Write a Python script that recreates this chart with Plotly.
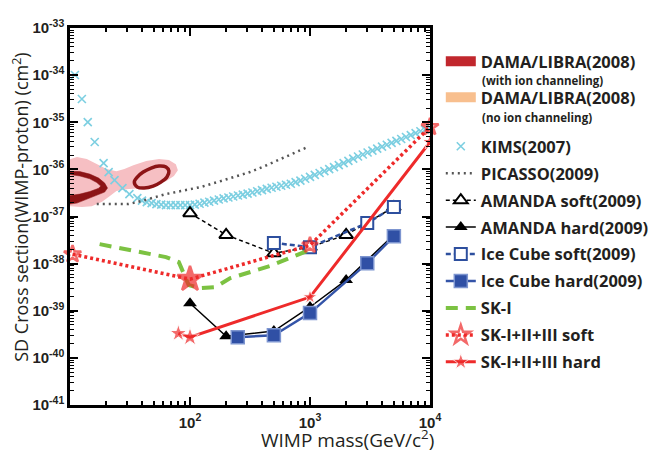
import plotly.graph_objects as go

# ---------------- data (log10 mass [GeV], log10 sigma [cm^2]) ----------------
dama_noch_logm = [0.98, 1.058, 1.140, 1.223, 1.305, 1.387, 1.453, 1.528, 1.635, 1.742, 1.824, 1.882,
                  1.899, 1.866, 1.800, 1.693, 1.577, 1.470, 1.387, 1.330, 1.264, 1.181, 1.099, 0.98]
dama_noch_logsig = [-35.80, -35.74, -35.78, -35.89, -35.99, -36.04, -35.99, -35.91, -35.82, -35.78, -35.80, -35.89,
                    -36.02, -36.14, -36.25, -36.33, -36.40, -36.42, -36.46, -36.57, -36.69, -36.78, -36.80, -36.78]

dama_ch_left_logm = [0.934, 1.000, 1.082, 1.165, 1.239, 1.289, 1.313, 1.289, 1.223, 1.140, 1.058, 0.934,
                     0.934, 1.000, 1.082, 1.165, 1.239, 1.256, 1.223, 1.165, 1.082, 1.000, 0.934]
dama_ch_left_logsig = [-36.036, -36.036, -36.047, -36.100, -36.185, -36.291, -36.397, -36.482, -36.546, -36.631, -36.716, -36.758,
                       -36.560, -36.555, -36.525, -36.470, -36.400, -36.355, -36.280, -36.200, -36.140, -36.110, -36.110]

dama_ch_right_logm = [1.536, 1.561, 1.618, 1.693, 1.758, 1.808, 1.824, 1.800, 1.742, 1.676, 1.610, 1.561, 1.536]
dama_ch_right_logsig = [-36.270, -36.376, -36.397, -36.355, -36.270, -36.163, -36.036, -35.951, -35.930, -35.972, -36.057, -36.163, -36.270]

kims_logm = [1.041, 1.099, 1.148, 1.206, 1.280, 1.322, 1.371, 1.437, 1.495, 1.561,
             1.60, 1.64, 1.68, 1.72, 1.76, 1.80, 1.84, 1.88, 1.92, 1.96,
             2.00, 2.04, 2.08, 2.12, 2.16, 2.20, 2.24, 2.28, 2.32, 2.36,
             2.40, 2.44, 2.48, 2.52, 2.56, 2.60, 2.64, 2.68, 2.72, 2.76,
             2.80, 2.84, 2.88, 2.92, 2.96, 3.00, 3.04, 3.08, 3.12, 3.16,
             3.20, 3.24, 3.28, 3.32, 3.36, 3.40, 3.44, 3.48, 3.52, 3.56,
             3.60, 3.64, 3.68, 3.72, 3.76, 3.80, 3.84, 3.88, 3.92, 3.96, 4.00]
kims_logsig = [-33.998, -34.507, -34.996, -35.420, -35.866, -36.057, -36.227, -36.397, -36.524, -36.609,
               -36.662, -36.694, -36.716, -36.737, -36.747, -36.758, -36.758, -36.758, -36.758, -36.758,
               -36.758, -36.747, -36.730, -36.705, -36.688, -36.662, -36.639, -36.616, -36.597, -36.575,
               -36.554, -36.535, -36.514, -36.490, -36.465, -36.439, -36.414, -36.389, -36.369, -36.348,
               -36.327, -36.304, -36.270, -36.240, -36.200, -36.159, -36.117, -36.076, -36.036, -35.994,
               -35.951, -35.911, -35.866, -35.820, -35.771, -35.726, -35.684, -35.643, -35.601, -35.561,
               -35.518, -35.478, -35.437, -35.395, -35.355, -35.312, -35.272, -35.231, -35.191, -35.157, -35.123]

picasso_logm = [1.223, 1.346, 1.486, 1.594, 1.676, 1.800, 1.923, 2.088, 2.228, 2.360, 2.500, 2.641, 2.772, 2.913, 2.979]
picasso_logsig = [-36.737, -36.737, -36.737, -36.673, -36.609, -36.524, -36.461, -36.376, -36.270, -36.163,
                  -36.057, -35.909, -35.760, -35.611, -35.527]

amanda_soft_mass = [100, 200, 500, 1000, 2000, 5000]
amanda_soft_logsig = [-36.93, -37.39, -37.78, -37.65, -37.39, -36.80]
amanda_hard_mass = [100, 200, 500, 1000, 2000, 5000]
amanda_hard_logsig = [-38.84, -39.54, -39.43, -38.92, -38.35, -37.39]

icecube_soft_mass = [500, 1000, 3000, 5000]
icecube_soft_logsig = [-37.56, -37.65, -37.14, -36.80]
icecube_hard_mass = [250, 500, 1000, 3000, 5000]
icecube_hard_logsig = [-39.56, -39.52, -39.05, -37.99, -37.42]

ski_logm = [1.247, 1.800, 1.907, 1.989, 2.088, 2.212, 2.336, 2.665, 2.995]
ski_logsig = [-37.586, -37.862, -37.968, -38.456, -38.520, -38.499, -38.308, -38.053, -37.713]

sk_soft_mass = [10.5, 100, 1000, 10000]
sk_soft_logsig = [-37.80, -38.33, -37.61, -35.10]
sk_hard_mass = [80, 100, 1000, 10000]
sk_hard_logsig = [-39.48, -39.56, -38.71, -35.42]

x_major = [100, 1000, 10000]
x_major_text = ["10<sup>2</sup>", "10<sup>3</sup>", "10<sup>4</sup>"]
y_exponents = [-41, -40, -39, -38, -37, -36, -35, -34, -33]

# ---------------- helpers ----------------
def p10(v):
    return [10 ** a for a in v]

DARK = "#231f20"
RED = "#ee2a2a"
BLUE = "#2d4f9e"

fig = go.Figure()

fig.add_trace(go.Scatter(x=p10(dama_noch_logm), y=p10(dama_noch_logsig), mode="lines", fill="toself",
                         fillcolor="#f6bfc3", line=dict(width=0), showlegend=False, hoverinfo="skip"))
fig.add_trace(go.Scatter(x=p10(dama_ch_left_logm), y=p10(dama_ch_left_logsig), mode="lines", fill="toself",
                         fillcolor="#8c1416", line=dict(width=0.5, color="#8c1416"), showlegend=False))
fig.add_trace(go.Scatter(x=p10(dama_ch_right_logm), y=p10(dama_ch_right_logsig), mode="lines",
                         line=dict(width=3.5, color="#8c1416", shape="spline"), showlegend=False))

fig.add_trace(go.Scatter(x=[None], y=[None], mode="lines", line=dict(width=14, color="#c1272d"),
                         name="DAMA/LIBRA(2008)", legend="legend", legendrank=1, legendgroup="g1"))
fig.add_trace(go.Scatter(x=[None], y=[None], mode="lines", line=dict(width=14, color="#f8bf8e"),
                         name="DAMA/LIBRA(2008)", legend="legend", legendrank=2, legendgroup="g2"))

L2 = "legend2"
fig.add_trace(go.Scatter(x=p10(kims_logm), y=p10(kims_logsig), mode="markers", name="KIMS(2007)",
                         marker=dict(symbol="x-thin", size=8, color="#7ccfe1",
                                     line=dict(width=1.6, color="#7ccfe1")),
                         legend=L2, legendrank=3, legendgroup="g3"))
fig.add_trace(go.Scatter(x=p10(picasso_logm), y=p10(picasso_logsig), mode="lines", name="PICASSO(2009)",
                         line=dict(color="#555555", width=2.5, dash="2px,4px"),
                         legend=L2, legendrank=4, legendgroup="g4"))
fig.add_trace(go.Scatter(x=amanda_soft_mass, y=p10(amanda_soft_logsig), mode="lines+markers",
                         name="AMANDA soft(2009)", line=dict(color="black", width=1.5, dash="4px,3px"),
                         marker=dict(symbol="triangle-up", size=12, color="white", line=dict(color="black", width=2)),
                         legend=L2, legendrank=5, legendgroup="g5"))
fig.add_trace(go.Scatter(x=amanda_hard_mass, y=p10(amanda_hard_logsig), mode="lines+markers",
                         name="AMANDA hard(2009)", line=dict(color="black", width=1.5),
                         marker=dict(symbol="triangle-up", size=12, color="black"),
                         legend=L2, legendrank=6, legendgroup="g6"))
fig.add_trace(go.Scatter(x=icecube_soft_mass, y=p10(icecube_soft_logsig), mode="lines+markers",
                         name="Ice Cube soft(2009)", line=dict(color=BLUE, width=2.5, dash="5px,3px"),
                         marker=dict(symbol="square", size=12, color="white", line=dict(color=BLUE, width=2)),
                         legend=L2, legendrank=7, legendgroup="g7"))
fig.add_trace(go.Scatter(x=icecube_hard_mass, y=p10(icecube_hard_logsig), mode="lines+markers",
                         name="Ice Cube hard(2009)", line=dict(color="#3454a8", width=2.5),
                         marker=dict(symbol="square", size=13, color="#3050a5", line=dict(color="#7d95d0", width=1.5)),
                         legend=L2, legendrank=8, legendgroup="g8"))
fig.add_trace(go.Scatter(x=p10(ski_logm), y=p10(ski_logsig), mode="lines", name="SK-I",
                         line=dict(color="#7cc242", width=4, dash="12px,8px"),
                         legend=L2, legendrank=9, legendgroup="g9"))
fig.add_trace(go.Scatter(x=sk_soft_mass, y=p10(sk_soft_logsig), mode="lines+markers", name="SK-I+II+III soft",
                         line=dict(color=RED, width=3.5, dash="3px,3px"),
                         marker=dict(symbol=["star-open", "star", "star-open", "star-open"], size=[13, 19, 12, 13],
                                     color=RED, line=dict(color=RED, width=2.5)),
                         cliponaxis=False, legend=L2, legendrank=10, legendgroup="g10"))
fig.add_trace(go.Scatter(x=sk_hard_mass, y=p10(sk_hard_logsig), mode="lines+markers", name="SK-I+II+III hard",
                         line=dict(color=RED, width=3),
                         marker=dict(symbol="star", size=[13, 14, 11, 12], color=RED),
                         legend=L2, legendrank=11, legendgroup="g11"))

x_minor = [m * 10 ** e for e in range(1, 4) for m in range(2, 10)]
y_minor = [m * 10.0 ** e for e in range(-41, -33) for m in range(2, 10)]
tickfont = dict(family="Liberation Sans Narrow, Liberation Sans", size=15, weight="bold", color=DARK)

fig.update_xaxes(type="log", range=[1, 4], showline=True, linecolor="black", linewidth=2.5, mirror="ticks",
                 ticks="inside", ticklen=8, tickwidth=1.5, tickcolor="black", automargin=False,
                 tickvals=x_major, ticktext=x_major_text, tickfont=tickfont, ticklabelstandoff=2,
                 minor=dict(ticks="inside", ticklen=4, tickwidth=1.5, tickcolor="black", tickvals=x_minor),
                 showgrid=False, zeroline=False)
fig.update_yaxes(type="log", range=[-41, -33], showline=True, linecolor="black", linewidth=2.5, mirror="ticks",
                 ticks="inside", ticklen=8, tickwidth=1.5, tickcolor="black", automargin=False,
                 tickvals=[10.0 ** e for e in y_exponents], ticktext=[f"10<sup>{e}</sup>" for e in y_exponents],
                 tickfont=tickfont,
                 minor=dict(ticks="inside", ticklen=4, tickwidth=1.2, tickcolor="black", tickvals=y_minor),
                 showgrid=False, zeroline=False)

legfont = dict(family="Open Sans", size=16.5, weight="bold", color=DARK)
subfont = dict(family="Open Sans", size=11.5, weight="bold", color=DARK)

fig.update_layout(
    width=666, height=453,
    margin=dict(l=70, r=223, t=28, b=48),
    paper_bgcolor="white", plot_bgcolor="white",
    legend=dict(x=1.03, y=0.9576, xanchor="left", yanchor="top", tracegroupgap=11.5,
                font=legfont, bgcolor="rgba(0,0,0,0)", itemclick=False),
    legend2=dict(x=1.03, y=0.732, xanchor="left", yanchor="top", tracegroupgap=2.5,
                 font=legfont, bgcolor="rgba(0,0,0,0)", itemclick=False),
    annotations=[
        dict(text="(with ion channeling)", xref="paper", yref="paper", x=1.140, y=0.861,
             xanchor="left", yanchor="middle", showarrow=False, font=subfont),
        dict(text="(no ion channeling)", xref="paper", yref="paper", x=1.140, y=0.7613,
             xanchor="left", yanchor="middle", showarrow=False, font=subfont),
        dict(text="WIMP mass(GeV/c<sup>2</sup>)", xref="paper", yref="paper", x=1.018, y=-0.091,
             xanchor="right", yanchor="middle", showarrow=False,
             font=dict(family="Open Sans", size=19, color=DARK)),
        dict(text="SD Cross section(WIMP-proton) (cm<sup>2</sup>)", xref="paper", yref="paper",
             x=-0.137, y=0.525, xanchor="center", yanchor="middle", textangle=-90, showarrow=False,
             font=dict(family="Open Sans", size=18, color=DARK)),
    ],
)

fig.write_html("out.html", config={"displayModeBar": False},
               post_script="document.body.style.margin='0';document.body.style.overflow='hidden';")
